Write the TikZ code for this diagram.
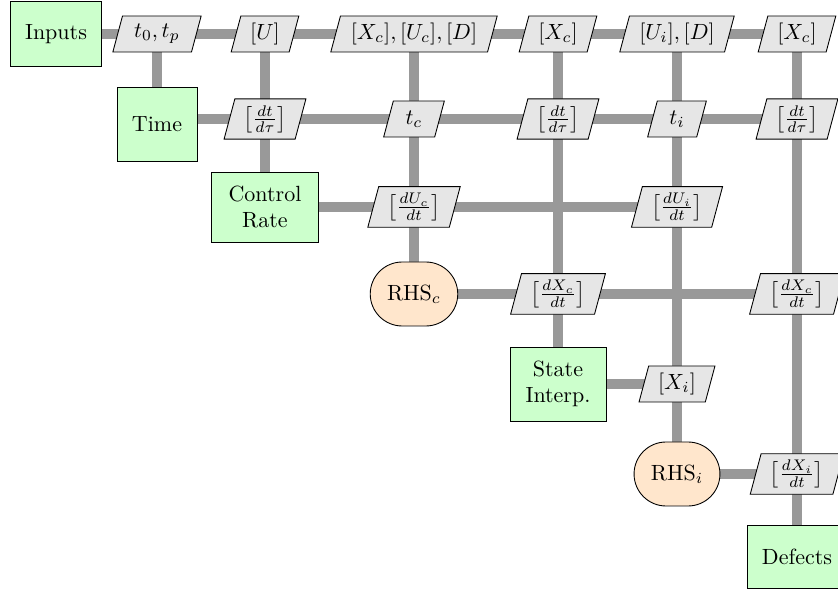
\documentclass[tikz,border=0pt]{standalone}
\usetikzlibrary{shapes.geometric,shapes.misc,backgrounds}
\newdimen\pxu \pxu=0.4545pt
\definecolor{fgreen}{RGB}{204,255,204}
\definecolor{forange}{RGB}{255,230,204}
\definecolor{dgray}{RGB}{230,230,230}
\definecolor{lgray}{RGB}{153,153,153}
\tikzset{
  func/.style={draw, fill=fgreen, align=center, inner sep=2pt},
  rhs/.style={draw, fill=forange, rounded rectangle, align=center, inner xsep=7pt, minimum height=64*\pxu},
  dat/.style={draw, fill=dgray, trapezium, trapezium left angle=75, trapezium right angle=105, inner xsep=4pt, inner ysep=3pt, minimum height=36*\pxu},
  conn/.style={draw=lgray, line width=10.5*\pxu},
}
\begin{document}
\begin{tikzpicture}[x=\pxu, y=-\pxu]
\useasboundingbox (0,0) rectangle (838,593);
% function nodes
\node[func, minimum width=91*\pxu, minimum height=65*\pxu] (inputs) at (56,34) {Inputs};
\node[func, minimum width=80*\pxu, minimum height=74*\pxu] (time) at (157,124) {Time};
\node[func, minimum width=107*\pxu, minimum height=70*\pxu] (crate) at (265,207) {Control\\Rate};
\node[rhs] (rhsc) at (414,294) {RHS$_c$};
\node[func, minimum width=96*\pxu, minimum height=74*\pxu] (sint) at (558,384) {State\\Interp.};
\node[rhs] (rhsi) at (677,474) {RHS$_i$};
\node[func, minimum width=100*\pxu, minimum height=63*\pxu] (defects) at (797,557) {Defects};
% row 1
\node[dat] (x12) at (157,34) {$t_0, t_p$};
\node[dat] (x13) at (265,34) {$[U]$};
\node[dat] (x14) at (414,34) {$[X_c], [U_c], [D]$};
\node[dat] (x15) at (558,34) {$[X_c]$};
\node[dat] (x16) at (677,34) {$[U_i], [D]$};
\node[dat] (x17) at (797,34) {$[X_c]$};
% row 2
\node[dat] (x23) at (265,119) {$\left[\frac{dt}{d\tau}\right]$};
\node[dat] (x24) at (414,119) {$t_c$};
\node[dat] (x25) at (558,119) {$\left[\frac{dt}{d\tau}\right]$};
\node[dat] (x26) at (677,119) {$t_i$};
\node[dat] (x27) at (797,119) {$\left[\frac{dt}{d\tau}\right]$};
% row 3
\node[dat] (x34) at (414,207) {$\left[\frac{dU_c}{dt}\right]$};
\node[dat] (x36) at (677,207) {$\left[\frac{dU_i}{dt}\right]$};
% row 4
\node[dat] (x45) at (558,294) {$\left[\frac{dX_c}{dt}\right]$};
\node[dat] (x47) at (797,294) {$\left[\frac{dX_c}{dt}\right]$};
% row 5
\node[dat] (x56) at (677,384) {$[X_i]$};
% row 6
\node[dat] (x67) at (797,474) {$\left[\frac{dX_i}{dt}\right]$};
\begin{pgfonlayer}{background}
\draw[conn] (inputs.center) -- (x17.center);
\draw[conn] (time.center |- x27.center) -- (x27.center);
\draw[conn] (crate.center) -- (x36.center);
\draw[conn] (rhsc.center) -- (x47.center);
\draw[conn] (sint.center) -- (x56.center);
\draw[conn] (rhsi.center) -- (x67.center);
\draw[conn] (x12.center) -- (time.center);
\draw[conn] (x13.center) -- (crate.center);
\draw[conn] (x14.center) -- (rhsc.center);
\draw[conn] (x15.center) -- (sint.center);
\draw[conn] (x16.center) -- (rhsi.center);
\draw[conn] (x17.center) -- (defects.center);
\end{pgfonlayer}
\end{tikzpicture}
\end{document}
